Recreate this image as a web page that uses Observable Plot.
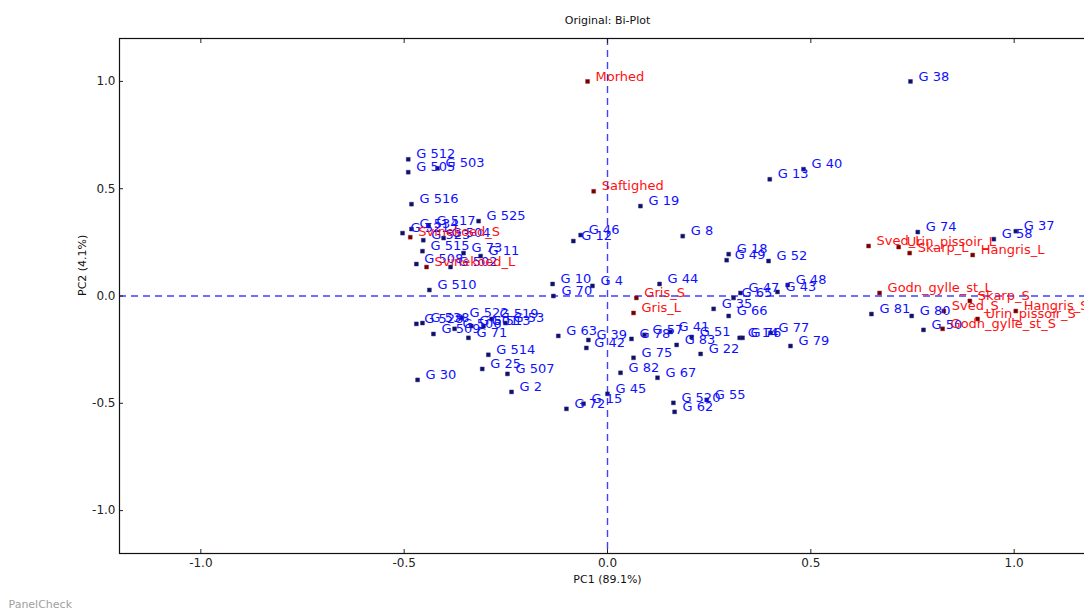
<!DOCTYPE html>
<html>
<head>
<meta charset="utf-8">
<script src="https://cdn.jsdelivr.net/npm/d3@7"></script>
<script src="https://cdn.jsdelivr.net/npm/@observablehq/plot@0.6"></script>
<style>
  html, body { margin: 0; padding: 0; background: #fff; overflow: hidden; width: 1084px; height: 610px; }
  #chart { width: 1110px; overflow: hidden; }
  #chart svg { display: block; max-width: none !important; font-family: "DejaVu Sans", sans-serif; }
</style>
</head>
<body>
<div id="chart"></div>
<script>
// Samples (blue)
const sampleLabels = ["G 38","G 512","G 505","G 503","G 516","G 525","G 534","G 521","G 517","G 523","G 504","G 515","G 73","G 11","G 508","G 502","G 510","G 528","G 538","G 509","G 506","G 522","G 501","G 513","G 519","G 53","G 71","G 514","G 25","G 507","G 2","G 30","G 10","G 70","G 4","G 46","G 12","G 19","G 8","G 13","G 40","G 18","G 49","G 52","G 44","G 48","G 43","G 47","G 65","G 35","G 66","G 74","G 58","G 37","G 81","G 80","G 50","G 63","G 39","G 42","G 78","G 57","G 41","G 51","G 83","G 75","G 22","G 14","G 76","G 77","G 79","G 82","G 67","G 45","G 15","G 72","G 520","G 62","G 55"];
const sampleX = [0.745,-0.490,-0.490,-0.418,-0.482,-0.317,-0.482,-0.504,-0.440,-0.453,-0.403,-0.455,-0.354,-0.312,-0.470,-0.386,-0.438,-0.470,-0.455,-0.428,-0.376,-0.359,-0.335,-0.305,-0.285,-0.251,-0.342,-0.293,-0.308,-0.246,-0.236,-0.467,-0.135,-0.133,-0.037,-0.066,-0.084,0.081,0.185,0.399,0.482,0.298,0.293,0.396,0.128,0.443,0.418,0.327,0.310,0.261,0.298,0.763,0.950,1.004,0.649,0.748,0.777,-0.121,-0.047,-0.052,0.059,0.091,0.155,0.207,0.170,0.064,0.229,0.325,0.332,0.401,0.450,0.032,0.123,0.000,-0.059,-0.101,0.162,0.165,0.244];
const sampleY = [1.000,0.637,0.577,0.595,0.428,0.349,0.312,0.293,0.326,0.260,0.270,0.209,0.200,0.186,0.149,0.135,0.028,-0.130,-0.126,-0.177,-0.153,-0.102,-0.140,-0.140,-0.107,-0.126,-0.195,-0.274,-0.340,-0.363,-0.447,-0.391,0.056,0.000,0.047,0.284,0.256,0.419,0.279,0.544,0.591,0.195,0.167,0.163,0.056,0.051,0.019,0.014,-0.009,-0.060,-0.093,0.298,0.265,0.302,-0.084,-0.093,-0.158,-0.186,-0.205,-0.242,-0.200,-0.181,-0.167,-0.191,-0.228,-0.288,-0.270,-0.195,-0.195,-0.172,-0.233,-0.358,-0.381,-0.456,-0.502,-0.526,-0.498,-0.540,-0.484];

// Attributes (red)
const attrLabels = ["Morhed","Saftighed","Svinekoed_S","Svinekoed_L","Gris_S","Gris_L","Sved_L","Urin_pissoir_L","Skarp_L","Hangris_L","Godn_gylle_st_L","Skarp_S","Sved_S","Hangris_S","Urin_pissoir_S","Godn_gylle_st_S"];
const attrX = [-0.049,-0.034,-0.485,-0.445,0.071,0.064,0.642,0.716,0.743,0.898,0.669,0.891,0.827,1.004,0.910,0.824];
const attrY = [1.000,0.488,0.274,0.135,-0.009,-0.079,0.233,0.228,0.200,0.191,0.014,-0.023,-0.070,-0.070,-0.107,-0.153];

const axisTicks = [-1.0, -0.5, 0.0, 0.5, 1.0];
const titleText = "Original: Bi-Plot";
const xLabel = "PC1 (89.1%)";
const yLabel = "PC2 (4.1%)";
const footer = "PanelCheck";

const samples = sampleLabels.map((l, i) => ({label: l, x: sampleX[i], y: sampleY[i]}));
const attrs = attrLabels.map((l, i) => ({label: l, x: attrX[i], y: attrY[i]}));

const fmt = d => d.toFixed(1);

const chart = Plot.plot({
  width: 1110,
  height: 610,
  marginLeft: 119,
  marginRight: 15,
  marginTop: 38,
  marginBottom: 57,
  x: {domain: [-1.2, 1.2]},
  y: {domain: [-1.2, 1.2]},
  style: {fontFamily: "DejaVu Sans, sans-serif", background: "white", maxWidth: "none"},
  marks: [
    Plot.ruleX([0], {stroke: "#4040ff", strokeWidth: 1.4, strokeDasharray: "7,5"}),
    Plot.ruleY([0], {stroke: "#4040ff", strokeWidth: 1.4, strokeDasharray: "7,5"}),
    Plot.axisX(axisTicks, {anchor: "bottom", tickSize: -4, tickPadding: 9, tickFormat: fmt, fontSize: 12, fill: "#222", stroke: "#222", label: null}),
    Plot.axisX(axisTicks, {anchor: "top", tickSize: -4, tickFormat: () => "", stroke: "#222", label: null}),
    Plot.axisY(axisTicks, {anchor: "left", tickSize: -4, tickPadding: 8, tickFormat: fmt, fontSize: 12, fill: "#222", stroke: "#222", label: null}),
    Plot.axisY(axisTicks, {anchor: "right", tickSize: -4, tickFormat: () => "", stroke: "#222", label: null}),
    Plot.dot(samples, {x: "x", y: "y", symbol: "square", r: 2.2, fill: "#101060", stroke: "#303090", strokeWidth: 0.5}),
    Plot.dot(attrs, {x: "x", y: "y", symbol: "square", r: 2.2, fill: "#700000", stroke: "#a02020", strokeWidth: 0.5}),
    Plot.text(samples, {x: "x", y: "y", text: "label", textAnchor: "start", dx: 8, dy: -5, fill: "#1010ff", fontSize: 13}),
    Plot.text(attrs, {x: "x", y: "y", text: "label", textAnchor: "start", dx: 8, dy: -5, fill: "#ff1010", fontSize: 13}),
    Plot.frame({stroke: "#111", strokeWidth: 1.2}),
    Plot.text([titleText], {frameAnchor: "top", dy: -18, fontSize: 11, fill: "#111", lineAnchor: "middle"}),
    Plot.text([xLabel], {frameAnchor: "bottom", dy: 26, fontSize: 11, fill: "#111", lineAnchor: "middle"}),
    Plot.text([yLabel], {frameAnchor: "left", dx: -37, rotate: -90, fontSize: 11, fill: "#111", lineAnchor: "middle"}),
    Plot.text([footer], {frameAnchor: "bottom-left", dx: -111, dy: 51, textAnchor: "start", fontSize: 11, fill: "#a0a0a0", lineAnchor: "middle"})
  ]
});
document.getElementById("chart").appendChild(chart);
</script>
</body>
</html>
